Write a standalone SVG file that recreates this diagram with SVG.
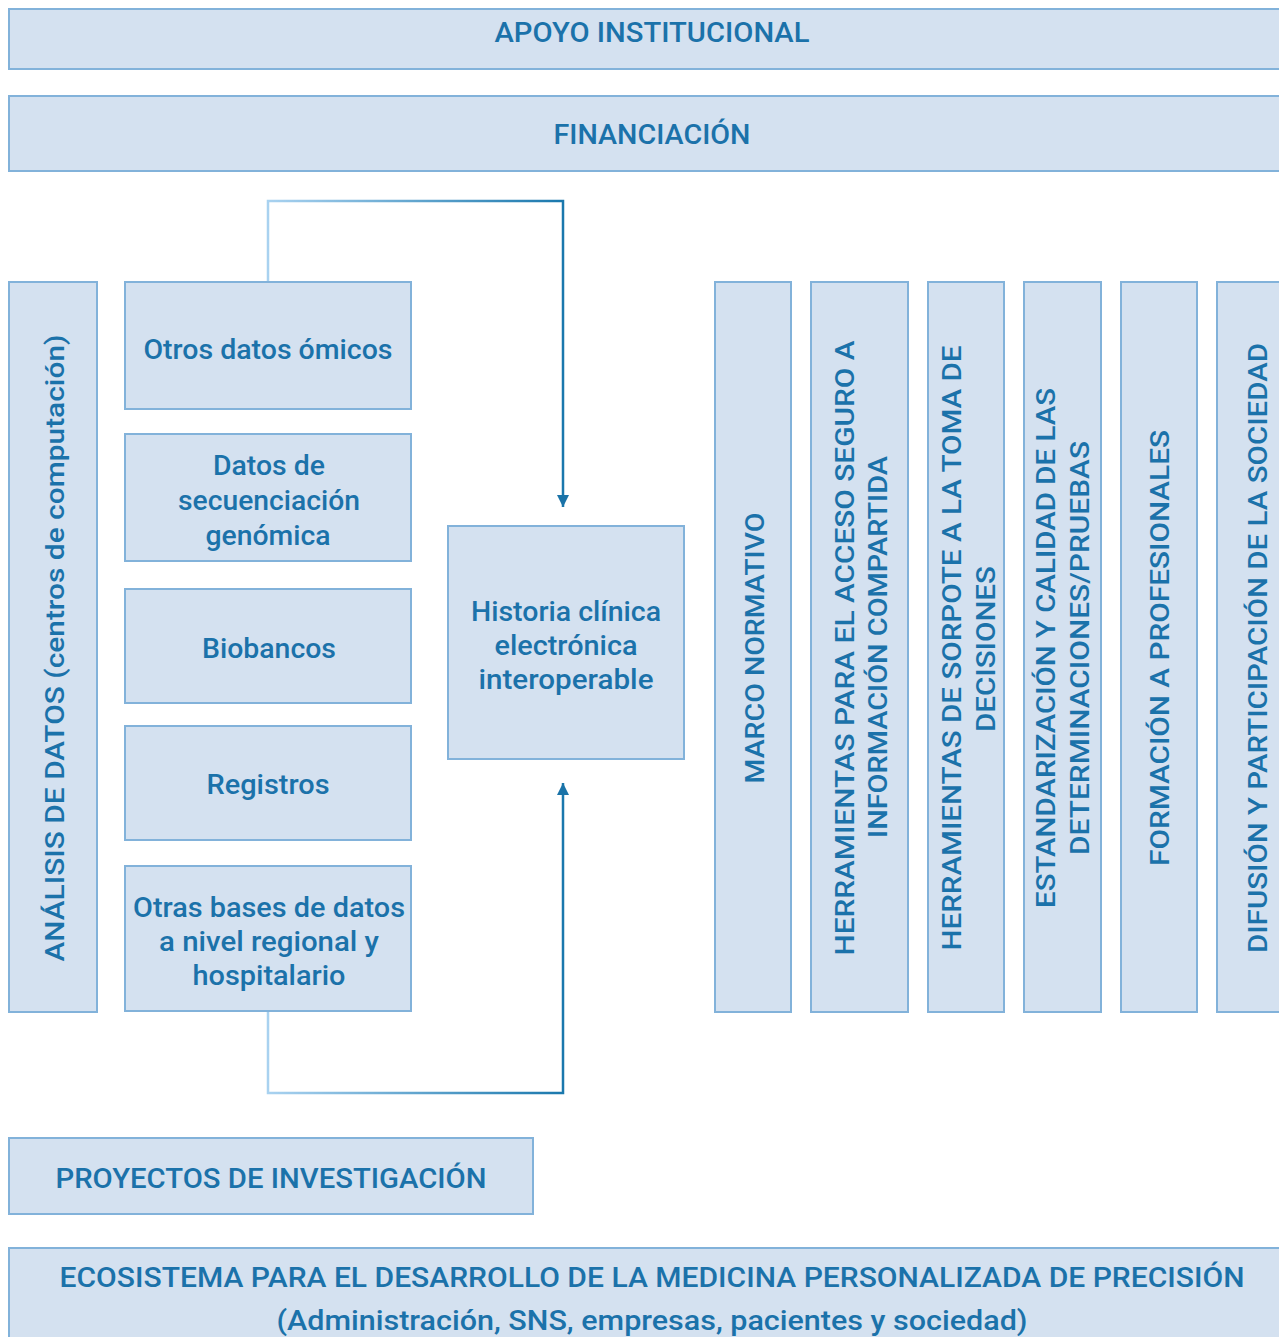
<svg xmlns="http://www.w3.org/2000/svg" width="1279" height="1337" viewBox="0 0 1279 1337">
<defs>
<style>
.box{fill:#d4e1f0;stroke:#82b2da;stroke-width:2}
.t{font-family:Roboto,"Liberation Sans",sans-serif;font-size:27px;font-weight:500;fill:#1b72aa;text-anchor:middle}
.v{font-family:Roboto,"Liberation Sans",sans-serif;font-size:26px;font-weight:500;fill:#1b72aa;text-anchor:middle}
.conn{fill:none;stroke:url(#g);stroke-width:2.5}
</style>
<linearGradient id="g" gradientUnits="userSpaceOnUse" x1="268" y1="0" x2="563" y2="0">
<stop offset="0" stop-color="#a9d2f0"/>
<stop offset="1" stop-color="#1a78ad"/>
</linearGradient>
<marker id="ah" viewBox="0 0 10 10" refX="10" refY="5" markerUnits="userSpaceOnUse" markerWidth="12" markerHeight="12" orient="auto">
<path d="M0,0 L10,5 L0,10 z" fill="#1a73a8"/>
</marker>
</defs>
<rect width="1279" height="1337" fill="#ffffff"/>

<g id="connectors">
<path class="conn" d="M268,282 V201 H563 V507" marker-end="url(#ah)"/>
<path class="conn" d="M268,1012 V1093 H563 V783" marker-end="url(#ah)"/>
</g>

<g id="apoyo"><rect class="box" x="9" y="9" width="1280" height="60"/><text class="t" x="652" y="42" textLength="315" lengthAdjust="spacingAndGlyphs">APOYO INSTITUCIONAL</text></g>
<g id="financiacion"><rect class="box" x="9" y="96" width="1280" height="75"/><text class="t" x="652" y="144" textLength="197" lengthAdjust="spacingAndGlyphs">FINANCIACIÓN</text></g>

<g id="analisis"><rect class="box" x="9" y="282" width="88" height="730"/><text class="v" transform="translate(55,648) rotate(-90)" y="9" textLength="627" lengthAdjust="spacingAndGlyphs">ANÁLISIS DE DATOS (centros de computación)</text></g>

<g id="omicos"><rect class="box" x="125" y="282" width="286" height="127"/><text class="t" x="268" y="359" textLength="249" lengthAdjust="spacingAndGlyphs">Otros datos ómicos</text></g>
<g id="secuenciacion"><rect class="box" x="125" y="434" width="286" height="127"/><text class="t" x="269" y="475" textLength="112" lengthAdjust="spacingAndGlyphs">Datos de</text><text class="t" x="269" y="510" textLength="182" lengthAdjust="spacingAndGlyphs">secuenciación</text><text class="t" x="268" y="545" textLength="125" lengthAdjust="spacingAndGlyphs">genómica</text></g>
<g id="biobancos"><rect class="box" x="125" y="589" width="286" height="114"/><text class="t" x="269" y="658" textLength="134" lengthAdjust="spacingAndGlyphs">Biobancos</text></g>
<g id="registros"><rect class="box" x="125" y="726" width="286" height="114"/><text class="t" x="268" y="794" textLength="123" lengthAdjust="spacingAndGlyphs">Registros</text></g>
<g id="otrasbases"><rect class="box" x="125" y="866" width="286" height="145"/><text class="t" x="269" y="917" textLength="272" lengthAdjust="spacingAndGlyphs">Otras bases de datos</text><text class="t" x="269" y="951" textLength="220" lengthAdjust="spacingAndGlyphs">a nivel regional y</text><text class="t" x="269" y="985" textLength="153" lengthAdjust="spacingAndGlyphs">hospitalario</text></g>

<g id="historia"><rect class="box" x="448" y="526" width="236" height="233"/><text class="t" x="566" y="621" textLength="190" lengthAdjust="spacingAndGlyphs">Historia clínica</text><text class="t" x="566" y="655" textLength="143" lengthAdjust="spacingAndGlyphs">electrónica</text><text class="t" x="566" y="689" textLength="175" lengthAdjust="spacingAndGlyphs">interoperable</text></g>

<g id="marco"><rect class="box" x="715" y="282" width="76" height="730"/><text class="v" transform="translate(755,648) rotate(-90)" y="9" textLength="271" lengthAdjust="spacingAndGlyphs">MARCO NORMATIVO</text></g>
<g id="herr-acceso"><rect class="box" x="811" y="282" width="97" height="730"/><text class="v" transform="translate(845,648) rotate(-90)" y="9" textLength="615" lengthAdjust="spacingAndGlyphs">HERRAMIENTAS PARA EL ACCESO SEGURO A</text><text class="v" transform="translate(878,647) rotate(-90)" y="9" textLength="382" lengthAdjust="spacingAndGlyphs">INFORMACIÓN COMPARTIDA</text></g>
<g id="herr-sorpote"><rect class="box" x="928" y="282" width="76" height="730"/><text class="v" transform="translate(952,648) rotate(-90)" y="9" textLength="605" lengthAdjust="spacingAndGlyphs">HERRAMIENTAS DE SORPOTE A LA TOMA DE</text><text class="v" transform="translate(986,649) rotate(-90)" y="9" textLength="166" lengthAdjust="spacingAndGlyphs">DECISIONES</text></g>
<g id="estandarizacion"><rect class="box" x="1024" y="282" width="77" height="730"/><text class="v" transform="translate(1046,648) rotate(-90)" y="9" textLength="520" lengthAdjust="spacingAndGlyphs">ESTANDARIZACIÓN Y CALIDAD DE LAS</text><text class="v" transform="translate(1080,648) rotate(-90)" y="9" textLength="414" lengthAdjust="spacingAndGlyphs">DETERMINACIONES/PRUEBAS</text></g>
<g id="formacion"><rect class="box" x="1121" y="282" width="76" height="730"/><text class="v" transform="translate(1160,648) rotate(-90)" y="9" textLength="436" lengthAdjust="spacingAndGlyphs">FORMACIÓN A PROFESIONALES</text></g>
<g id="difusion"><rect class="box" x="1217" y="282" width="80" height="730"/><text class="v" transform="translate(1258,648) rotate(-90)" y="9" textLength="610" lengthAdjust="spacingAndGlyphs">DIFUSIÓN Y PARTICIPACIÓN DE LA SOCIEDAD</text></g>

<g id="proyectos"><rect class="box" x="9" y="1138" width="524" height="76"/><text class="t" x="271" y="1188" textLength="431" lengthAdjust="spacingAndGlyphs">PROYECTOS DE INVESTIGACIÓN</text></g>
<g id="ecosistema"><rect class="box" x="9" y="1248" width="1280" height="100"/><text class="t" x="652" y="1287" textLength="1185" lengthAdjust="spacingAndGlyphs">ECOSISTEMA PARA EL DESARROLLO DE LA MEDICINA PERSONALIZADA DE PRECISIÓN</text><text class="t" x="652" y="1330" textLength="751" lengthAdjust="spacingAndGlyphs">(Administración, SNS, empresas, pacientes y sociedad)</text></g>
</svg>
